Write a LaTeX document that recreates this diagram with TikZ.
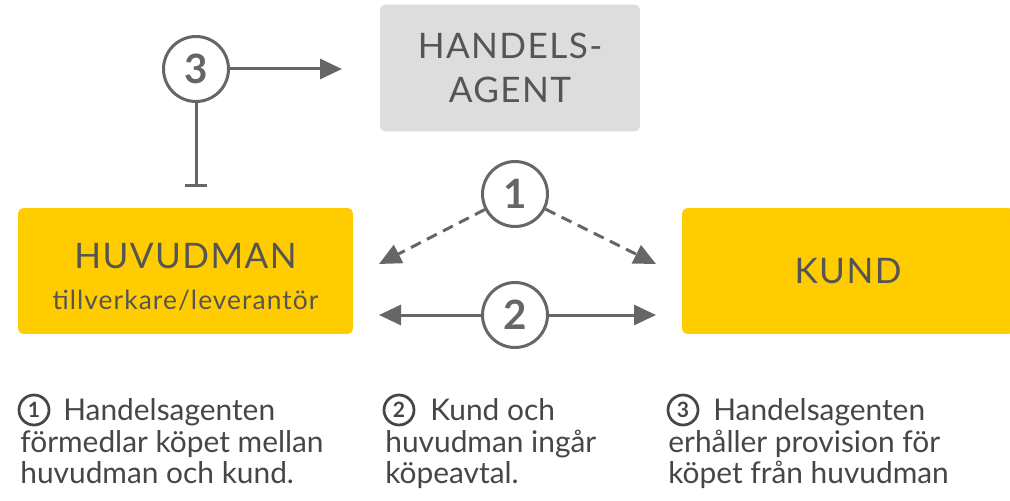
\documentclass[tikz,border=0pt]{standalone}
\usepackage{fontspec}
\setmainfont{Lato}
\usetikzlibrary{arrows.meta}
\usetikzlibrary{calc}

\definecolor{agentgray}{RGB}{221,221,221}
\definecolor{mainyellow}{RGB}{255,204,0}
\definecolor{linegray}{RGB}{102,102,102}
\definecolor{textgray}{RGB}{85,85,85}
\definecolor{notegray}{RGB}{70,70,70}

\begin{document}
\begin{tikzpicture}[x=0.02cm, y=-0.02cm,
	box/.style = {rectangle,
		rounded corners=3pt,
		inner sep=0pt,
		text=textgray,
		align=center,
		font=\fontsize{20}{25}\selectfont\addfontfeature{LetterSpace=4}},
	num/.style = {circle,
		draw=linegray,
		line width=0.06cm,
		fill=white,
		minimum size=1.3cm,
		inner sep=0pt,
		text=linegray,
		font=\fontsize{23}{23}\selectfont\bfseries},
	smallnum/.style = {circle,
		draw=notegray,
		line width=0.055cm,
		minimum size=0.6cm,
		inner sep=0pt,
		text=notegray,
		font=\fontsize{12}{12}\selectfont\bfseries},
	note/.style = {anchor=north west,
		inner sep=0pt,
		align=left,
		text=notegray,
		font=\fontsize{17}{18.1}\selectfont},
	link/.style = {draw=linegray, line width=0.06cm},
	tip/.style = {-{Triangle[length=0.44cm, width=0.4cm]}}]
	
	\useasboundingbox (0,0) rectangle (1010,500);
	
	% Handelsagent
	\node[box, fill=agentgray, minimum width=5.2cm, minimum height=2.54cm] (agent) at (510,68) {HANDELS-\\AGENT};
	
	% Huvudman
	\node[box, fill=mainyellow, minimum width=6.7cm, minimum height=2.52cm] (main) at (185.5,271) {\rule{0pt}{21pt}HUVUDMAN\\[-2pt]{\fontsize{15}{16}\selectfont\addfontfeature{LetterSpace=4}tillverkare/leverantör}};
	
	% Kund
	\node[box, fill=mainyellow, minimum width=6.64cm, minimum height=2.52cm] (kund) at (848,271) {KUND};
	
	% Numbers
	\node[num] (c3) at (196,69) {3};
	\node[num] (c1) at (515,194) {1};
	\node[num] (c2) at (515,315) {2};
	
	% Free ends
	\coordinate (agentin) at (342,69);
	\coordinate (mainbar) at (196,187);
	\coordinate (mainup) at (379,264);
	\coordinate (kundup) at (656,264);
	\coordinate (mainmid) at (379,315);
	\coordinate (kundmid) at (656,315);
	
	% Connectors
	\draw[link, tip] (c3) -- (agentin);
	\draw[link, -{Bar[width=0.44cm]}] (c3) -- (mainbar);
	\draw[link, tip, dash pattern=on 0.22cm off 0.14cm] (c1) -- (mainup);
	\draw[link, tip, dash pattern=on 0.22cm off 0.14cm] (c1) -- (kundup);
	\draw[link, tip] (c2) -- (mainmid);
	\draw[link, tip] (c2) -- (kundmid);
	
	% Notes
	\node[note] (n1) at (20,398) {\hspace*{0.86cm}Handelsagenten\\förmedlar köpet mellan\\huvudman och kund.};
	\node[smallnum] (k1) at (34,410) {1};
	
	\node[note] (n2) at (385,398) {\hspace*{0.9cm}Kund och\\huvudman ingår\\köpeavtal.};
	\node[smallnum] (k2) at (399,410) {2};
	
	\node[note] (n3) at (668,398) {\hspace*{0.9cm}Handelsagenten\\erhåller provision för\\köpet från huvudman};
	\node[smallnum] (k3) at (683,410) {3};
	
\end{tikzpicture}
\end{document}
